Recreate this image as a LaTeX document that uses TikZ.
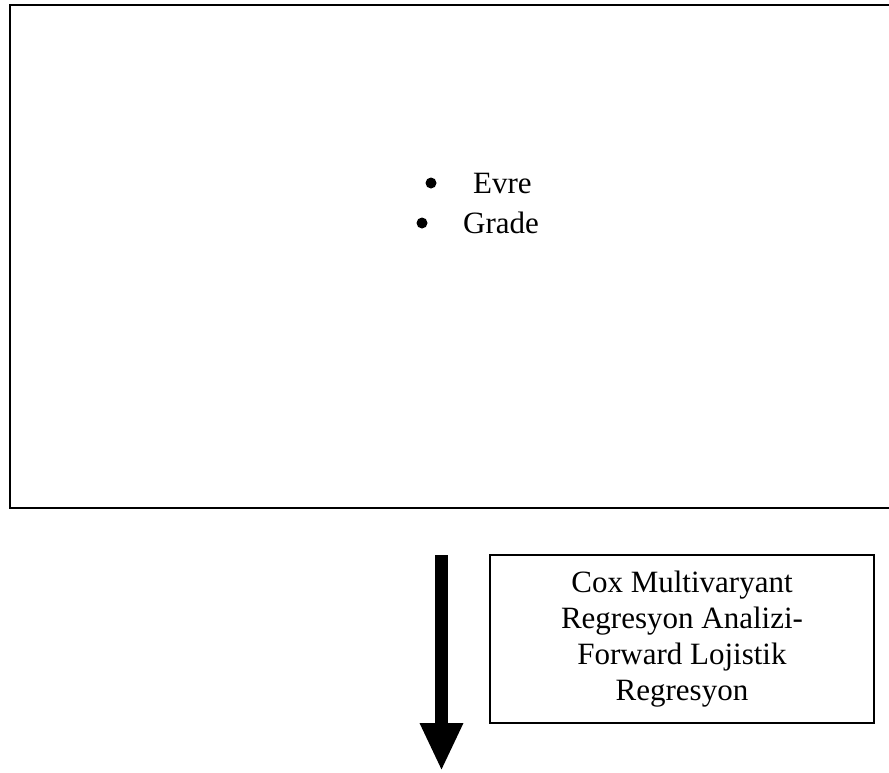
\documentclass[tikz,border=0pt]{standalone}
\usepackage{fontspec}
\setmainfont{Liberation Serif}
\usetikzlibrary{arrows.meta, positioning}

\begin{document}
\begin{tikzpicture}[x=1pt, y=-1pt,
    box/.style={draw, line width=1.5pt, rectangle, inner sep=0pt},
    item/.style={anchor=base west, inner sep=0pt, font=\fontsize{31}{36}\selectfont},
    dot/.style={circle, fill, inner sep=0pt, minimum size=11pt}]
    \useasboundingbox (0,0) rectangle (889,772);
    \clip (0,0) rectangle (889,772);

    % Variables box (x=9, y=4), runs past the right edge
    \node[box, minimum width=886pt, minimum height=503pt, anchor=north west] (vars) at (9,4) {};

    % Bullet list (x=431, y=183)
    \node[dot] (dot1) at (431,183) {};
    \node[item] (evre) at (473,193) {Evre};
    \node[dot] (dot2) at (422,223) {};
    \node[item] (grade) at (463,233) {Grade};

    % Method box (x=682, y=639)
    \node[box, minimum width=384pt, minimum height=168pt, align=center,
          font=\fontsize{31}{36}\selectfont] (method) at (682,639)
          {Cox Multivaryant\\Regresyon Analizi-\\Forward Lojistik\\Regresyon};

    % Arrow
    \coordinate (arrowtop) at (441.5,555);
    \coordinate (arrowtip) at (441.5,771);
    \draw[-{Triangle[length=48pt,width=40pt]}, line width=13pt] (arrowtop) -- (arrowtip);
\end{tikzpicture}
\end{document}
